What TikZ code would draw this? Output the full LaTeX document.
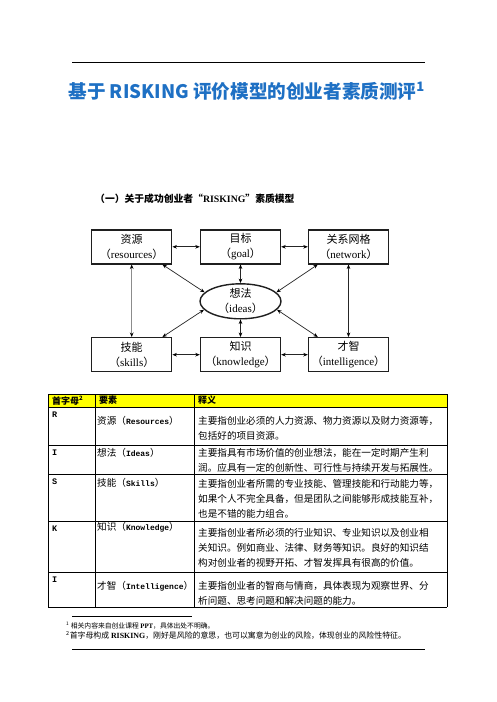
\documentclass[tikz,border=0pt]{standalone}
\usepackage{fontspec}
\setmainfont{Liberation Serif}
\setmonofont{Liberation Mono}
\newfontfamily\cjk{Noto Sans CJK SC}
\usetikzlibrary{arrows.meta,calc,shapes.geometric}
\definecolor{titleblue}{RGB}{30,112,196}
\definecolor{hdryellow}{RGB}{255,255,0}
\newcommand{\dlab}[2]{{\cjk #1}\\{\cjk （}#2{\cjk ）}}
\newcommand{\elem}[2]{{\cjk #1（}{\ttfamily\bfseries\fontsize{8}{8}\selectfont #2}{\cjk ）}}
\begin{document}
\begin{tikzpicture}[x=1pt,y=-1pt,
  box/.style={draw=black!88, line width=1.4pt, minimum width=80pt, minimum height=34pt,
              inner sep=0pt, align=center, font=\fontsize{11}{15}\selectfont},
  ell/.style={draw=black!88, ellipse, line width=1.4pt, minimum width=81pt, minimum height=35pt, inner sep=0pt},
  dbl/.style={{Stealth[length=4.5pt,width=3.6pt,black]}-{Stealth[length=4.5pt,width=3.6pt,black]}, line width=0.7pt, draw=black!85},
  rule/.style={line width=0.9pt, draw=black},
  grid/.style={line width=0.8pt, draw=black},
  c3/.style={anchor=west, inner sep=0pt, align=left, font=\cjk\fontsize{9.6}{15}\selectfont},
  c2/.style={anchor=west, inner sep=0pt, font=\fontsize{9.6}{12}\selectfont},
  c1/.style={anchor=west, inner sep=0pt, font=\ttfamily\bfseries\fontsize{8.5}{10}\selectfont},
  hdr/.style={anchor=west, inner sep=0pt, font=\cjk\bfseries\fontsize{9}{10}\selectfont},
  fn/.style={anchor=west, inner sep=0pt, font=\cjk\fontsize{6.8}{8}\selectfont}]
\useasboundingbox (0,0) rectangle (496,702);
\fill[white] (0,0) rectangle (496,702);

% top and bottom rules
\coordinate (tl) at (72,62.5); \coordinate (tr) at (425,62.5);
\draw[rule] (tl) -- (tr);
\coordinate (bl) at (72,649); \coordinate (br) at (425,649);
\draw[rule] (bl) -- (br);

% title
\node[font=\cjk\bfseries\fontsize{18.6}{19}\selectfont, text=titleblue, inner sep=0pt] (title) at (246.7,91)
  {基于 RISKING 评价模型的创业者素质测评\textsuperscript{1}};

% subtitle
\node[anchor=west, inner sep=0pt, font=\cjk\bfseries\fontsize{9.8}{10}\selectfont] (sub) at (95,199)
  {（一）关于成功创业者“{\rmfamily\bfseries RISKING}”素质模型};

% diagram
\node[box] (res) at (131.7,246.8) {\dlab{资源}{resources}};
\node[box] (goal) at (240.5,246.8) {\dlab{目标}{goal}};
\node[box] (net) at (348.5,246.8) {\dlab{关系网格}{network}};
\node[ell] (ideas) at (240.5,301.3) {};
\node[inner sep=0pt, align=center, font=\fontsize{11}{15}\selectfont] (ideastxt) at (240.5,301.3) {\dlab{想法}{ideas}};
\node[box] (sk) at (131.7,354.7) {\dlab{技能}{skills}};
\node[box] (kn) at (240.5,354.7) {\dlab{知识}{knowledge}};
\node[box] (intel) at (348.5,354.7) {\dlab{才智}{intelligence}};

\draw[dbl] (res.east) -- (goal.west);
\draw[dbl] (goal.east) -- (net.west);
\draw[dbl] (sk.east) -- (kn.west);
\draw[dbl] (kn.east) -- (intel.west);
\draw[dbl, draw=black!45] (res.south) -- (sk.north);
\draw[dbl] (net.south) -- (intel.north);
\draw[dbl] (goal.south) -- (ideas.north);
\draw[dbl] (ideas.south) -- (kn.north);
\draw[dbl] ([xshift=-10pt]res.south east) -- (ideas.166);
\draw[dbl] ([xshift=10pt]net.south west) -- (ideas.14);
\draw[dbl] ([xshift=-10pt]sk.north east) -- (ideas.193);
\draw[dbl] ([xshift=10pt]intel.north west) -- (ideas.347);

% table
\fill[hdryellow] (48,394) rectangle (447,407);
\foreach \yy in {394,407,445,474,521,572,607} \draw[grid] (48,\yy) -- (447,\yy);
\foreach \xx in {48,95,194,447} \draw[grid] (\xx,394) -- (\xx,607);

\node[hdr] (h1) at (52,400.5) {首字母\textsuperscript{2}};
\node[hdr] (h2) at (99,400.5) {要素};
\node[hdr] (h3) at (198,400.5) {释义};

\node[c1] (l1) at (52,415) {R};
\node[c1] (l2) at (52,453) {I};
\node[c1] (l3) at (52,482) {S};
\node[c1] (l4) at (52,529) {K};
\node[c1] (l5) at (52,580) {I};

\node[c2] (e1) at (97,421) {\elem{资源}{Resources}};
\node[c2] (e2) at (97,453) {\elem{想法}{Ideas}};
\node[c2] (e3) at (97,483) {\elem{技能}{Skills}};
\node[c2] (e4) at (97,527) {\elem{知识}{Knowledge}};
\node[c2] (e5) at (97,586) {{\cjk 才智（}{\ttfamily\bfseries\fontsize{8}{8}\selectfont Intelligence}{\cjk ）}};

\node[c3] (d1) at (198,428.5) {主要指创业必须的人力资源、物力资源以及财力资源等，\\包括好的项目资源。};
\node[c3] (d2) at (198,460.5) {主要指具有市场价值的创业想法，能在一定时期产生利\\润。应具有一定的创新性、可行性与持续开发与拓展性。};
\node[c3] (d3) at (198,498.5) {主要指创业者所需的专业技能、管理技能和行动能力等，\\如果个人不完全具备，但是团队之间能够形成技能互补，\\也是不错的能力组合。};
\node[c3] (d4) at (198,548) {主要指创业者所必须的行业知识、专业知识以及创业相\\关知识。例如商业、法律、财务等知识。良好的知识结\\构对创业者的视野开拓、才智发挥具有很高的价值。};
\node[c3] (d5) at (198,593) {主要指创业者的智商与情商，具体表现为观察世界、分\\析问题、思考问题和解决问题的能力。};

% footnotes
\coordinate (fa) at (72,616); \coordinate (fb) at (192,616);
\draw[line width=0.5pt] (fa) -- (fb);
\node[fn] (fn1) at (66,626) {\textsuperscript{1} 相关内容来自创业课程 {\rmfamily\bfseries PPT}，具体出处不明确。};
\node[fn, font=\cjk\fontsize{7.9}{8}\selectfont] (fn2) at (66,635) {\textsuperscript{2}首字母构成 {\rmfamily\bfseries RISKING}，刚好是风险的意思，也可以寓意为创业的风险，体现创业的风险性特征。};
\end{tikzpicture}
\end{document}
